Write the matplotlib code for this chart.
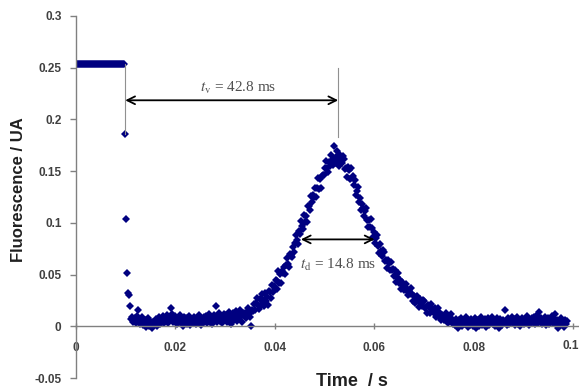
import matplotlib
matplotlib.use("Agg")
import matplotlib.pyplot as plt
from matplotlib.transforms import blended_transform_factory
import numpy as np

# fluorescence trace sampled every 0.2 ms (one row = 2 ms)
dt = 0.0002
fluo = [
    0.254, 0.254, 0.254, 0.254, 0.254, 0.254, 0.254, 0.254, 0.254, 0.254,
    0.254, 0.254, 0.254, 0.254, 0.254, 0.254, 0.254, 0.254, 0.254, 0.254,
    0.254, 0.254, 0.254, 0.254, 0.254, 0.254, 0.254, 0.254, 0.254, 0.254,
    0.254, 0.254, 0.254, 0.254, 0.254, 0.254, 0.254, 0.254, 0.254, 0.254,
    0.254, 0.254, 0.254, 0.254, 0.254, 0.254, 0.254, 0.254, 0.254, 0.254,
    0.186, 0.104, 0.052, 0.032, 0.030, 0.020, 0.007, 0.009, 0.004, 0.006,
    0.008, 0.003, 0.010, 0.016, 0.005, 0.002, 0.007, 0.009, 0.001, 0.004,
    0.006, -0.001, 0.003, 0.008, 0.000, 0.005, 0.002, -0.002, 0.004, 0.001,
    0.003, 0.007, 0.000, 0.005, 0.009, 0.002, 0.006, 0.004, 0.010, 0.003,
    0.008, 0.005, 0.011, 0.003, 0.009, 0.006, 0.018, 0.012, 0.004, 0.007,
    0.010, 0.006, 0.002, 0.008, 0.005, 0.011, 0.003, 0.007, 0.000, 0.009,
    0.004, 0.008, 0.002, 0.006, 0.010, 0.001, 0.005, 0.007, 0.003, 0.009,
    0.006, 0.002, 0.008, 0.004, 0.011, 0.005, 0.001, 0.007, 0.003, 0.009,
    0.005, 0.010, 0.003, 0.007, 0.012, 0.004, 0.008, 0.002, 0.006, 0.011,
    0.007, 0.020, 0.004, 0.009, 0.013, 0.005, 0.010, 0.003, 0.008, 0.012,
    0.006, 0.011, 0.004, 0.009, 0.014, 0.007, 0.002, 0.010, 0.013, 0.006,
    0.009, 0.015, 0.005, 0.012, 0.008, 0.016, 0.010, 0.004, 0.013, 0.011,
    0.013, 0.008, 0.014, 0.018, 0.012, 0.009, 0.000, 0.016, 0.015, 0.022,
    0.016, 0.023, 0.027, 0.021, 0.017, 0.026, 0.021, 0.031, 0.025, 0.020,
    0.032, 0.024, 0.028, 0.021, 0.034, 0.033, 0.027, 0.040, 0.033, 0.039,
    0.037, 0.045, 0.036, 0.044, 0.053, 0.042, 0.051, 0.042, 0.053, 0.052,
    0.057, 0.051, 0.059, 0.066, 0.060, 0.057, 0.070, 0.068, 0.067, 0.077,
    0.072, 0.081, 0.088, 0.083, 0.080, 0.092, 0.089, 0.102, 0.097, 0.094,
    0.108, 0.101, 0.107, 0.101, 0.116, 0.116, 0.112, 0.126, 0.120, 0.127,
    0.125, 0.134, 0.125, 0.134, 0.143, 0.133, 0.142, 0.134, 0.145, 0.146,
    0.146, 0.153, 0.160, 0.153, 0.149, 0.159, 0.155, 0.166, 0.161, 0.156,
    0.174, 0.158, 0.164, 0.169, 0.161, 0.155, 0.166, 0.161, 0.158, 0.165,
    0.162, 0.152, 0.153, 0.144, 0.154, 0.151, 0.142, 0.153, 0.143, 0.145,
    0.137, 0.141, 0.127, 0.131, 0.135, 0.120, 0.124, 0.112, 0.118, 0.114,
    0.107, 0.111, 0.114, 0.103, 0.096, 0.103, 0.096, 0.104, 0.095, 0.086,
    0.091, 0.081, 0.085, 0.088, 0.078, 0.071, 0.080, 0.073, 0.068, 0.074,
    0.072, 0.063, 0.064, 0.056, 0.064, 0.061, 0.054, 0.062, 0.054, 0.055,
    0.049, 0.054, 0.043, 0.048, 0.052, 0.042, 0.045, 0.036, 0.043, 0.039,
    0.035, 0.038, 0.041, 0.034, 0.030, 0.035, 0.031, 0.037, 0.031, 0.024,
    0.029, 0.023, 0.027, 0.029, 0.024, 0.019, 0.026, 0.023, 0.020, 0.025,
    0.024, 0.018, 0.019, 0.013, 0.021, 0.019, 0.013, 0.022, 0.015, 0.017,
    0.013, 0.018, 0.009, 0.014, 0.018, 0.009, 0.013, 0.006, 0.011, 0.010,
    0.006, 0.010, 0.013, 0.007, 0.003, 0.009, 0.006, 0.012, 0.007, 0.002,
    0.005, 0.001, 0.007, 0.003, -0.002, 0.006, 0.002, 0.008, 0.000, 0.004,
    0.006, 0.002, 0.009, 0.003, -0.001, 0.005, 0.001, 0.007, 0.004, 0.000,
    0.003, 0.008, -0.002, 0.005, 0.002, 0.006, 0.000, 0.004, 0.009, 0.001,
    0.005, 0.002, 0.007, -0.001, 0.004, 0.008, 0.001, 0.006, 0.003, 0.009,
    0.002, 0.006, 0.000, 0.005, 0.008, 0.003, -0.002, 0.007, 0.004, 0.001,
    0.006, 0.003, 0.016, 0.005, 0.001, 0.008, 0.002, 0.006, 0.004, 0.009,
    0.003, 0.007, 0.001, 0.005, 0.009, 0.002, 0.006, 0.000, 0.004, 0.008,
    0.005, 0.002, 0.007, 0.003, 0.010, 0.004, 0.001, 0.006, 0.003, 0.008,
    0.004, 0.009, 0.002, 0.006, 0.011, 0.003, 0.014, 0.005, 0.008, 0.002,
    0.006, 0.003, 0.009, 0.001, 0.005, 0.008, 0.002, 0.007, 0.004, 0.010,
    0.003, 0.007, 0.012, 0.002, 0.006, -0.002, 0.005, 0.001, 0.008, 0.003,
    0.004, -0.001, 0.006, 0.002, 0.005,
]
time = np.arange(len(fluo)) * dt

xticks = [0, 0.02, 0.04, 0.06, 0.08, 0.1]
xtick_labels = ["0", "0.02", "0.04", "0.06", "0.08", "0.1"]
yticks = [-0.05, 0, 0.05, 0.1, 0.15, 0.2, 0.25, 0.3]
ytick_labels = ["-0.05", "0", "0.05", "0.1", "0.15", "0.2", "0.25", "0.3"]

# annotated times (s)
t_release = 0.0100
t_v = 0.0428
t_d = 0.0148
peak_center = 0.0527
half_level = 0.084
plateau = 0.254

plt.rcParams["mathtext.fontset"] = "stix"

fig = plt.figure(figsize=(5.79, 3.92), dpi=100)
ax = fig.add_axes([0.1304, 0.0357, 0.8696, 0.9235])

ax.plot(time, fluo, linestyle="none", marker="D", markersize=3.6,
        color="#000080", markeredgewidth=0)

ax.set_xlim(0, 0.1012)
ax.set_ylim(-0.05, 0.3)

for s in ["top", "right"]:
    ax.spines[s].set_visible(False)
ax.spines["bottom"].set_position(("data", 0))
for s in ["left", "bottom"]:
    ax.spines[s].set_color("#808080")
    ax.spines[s].set_linewidth(1.0)

tick_font = dict(fontsize=8.5, fontweight="bold", fontfamily="Liberation Sans",
                 color="#404040")

# last x label is drawn by hand so it stays inside the figure
ax.set_xticks(xticks)
ax.set_xticklabels(xtick_labels[:-1] + [""], **tick_font)
ax.set_yticks(yticks)
ax.set_yticklabels(ytick_labels, **tick_font)
ax.tick_params(axis="x", direction="inout", length=5, width=1, color="#808080",
               pad=9)
ax.tick_params(axis="y", direction="out", length=4, width=1, color="#808080",
               pad=6)
ax.text(xticks[-1] + 0.0012, -0.0195, xtick_labels[-1], ha="right",
        va="center", **tick_font)

ax.set_xlabel("Time  / s", fontsize=13, fontweight="bold",
              fontfamily="Liberation Sans", color="#202020")
ax.xaxis.label.set_va("center")
ax.xaxis.set_label_coords(0.549, -0.009)
ax.set_ylabel("Fluorescence / UA", fontsize=12, fontweight="bold",
              fontfamily="Liberation Sans", color="#202020")
ax.yaxis.label.set_va("center")
ax.yaxis.set_label_coords(-0.114, 0.52)

# guide lines and arrows
t_peak = t_release + t_v
ax.plot([t_release, t_release], [plateau, 0.186], color="#909090", lw=0.8)
ax.plot([t_peak, t_peak], [0.250, 0.183], color="#909090", lw=0.8)

ax.annotate("", xy=(t_peak, 0.2185), xytext=(t_release, 0.2185),
            arrowprops=dict(arrowstyle="<->", color="black", lw=1.3,
                            mutation_scale=14, shrinkA=0, shrinkB=0))
ax.annotate("", xy=(peak_center + t_d / 2, half_level),
            xytext=(peak_center - t_d / 2, half_level),
            arrowprops=dict(arrowstyle="<->", color="black", lw=1.3,
                            mutation_scale=14, shrinkA=0, shrinkB=0))

ax.text(0.0327, 0.2305, r"$t_{\mathrm{v}}$ = %.1f ms" % (t_v * 1000),
        ha="center", va="center", fontsize=11, color="#505050",
        fontfamily="Liberation Serif")
ax.text(peak_center, 0.0593, r"$t_{\mathrm{d}}$ = %.1f ms" % (t_d * 1000),
        ha="center", va="center", fontsize=11, color="#505050",
        fontfamily="Liberation Serif")

fig.savefig("out.png", dpi=100)
